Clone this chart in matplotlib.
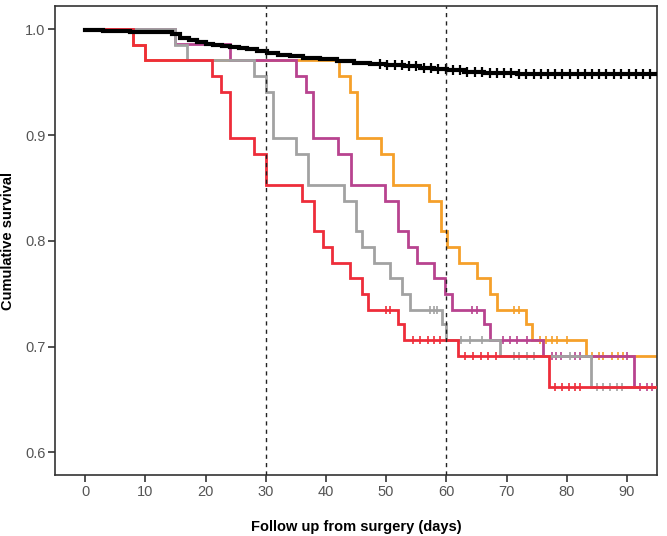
import numpy as np
import matplotlib
matplotlib.use('Agg')
import matplotlib.pyplot as plt

plt.rcParams['font.family'] = ['Liberation Sans', 'DejaVu Sans']

# event times (days) and survival after each event, censor times
red_t = [8, 10, 21, 22.6, 24, 28, 30, 36, 38, 39.5, 41, 44, 46, 47, 52, 53, 62, 77]
red_s = [0.985, 0.971, 0.956, 0.941, 0.897, 0.882, 0.853, 0.838, 0.809, 0.794,
         0.779, 0.765, 0.750, 0.735, 0.721, 0.706, 0.691, 0.662]
red_c = [50, 50.7, 54.5, 55.7, 56.9, 58, 59, 63.1, 64.5, 65.8, 67, 68.2,
         78.1, 79.2, 80.3, 81.4, 82.2]

gray_t = [15, 17, 28, 30, 31.2, 35, 37, 43, 45, 46, 48, 50.7, 52.6, 54, 59.3, 60, 69, 84]
gray_s = [0.985, 0.971, 0.956, 0.941, 0.897, 0.882, 0.853, 0.838, 0.809, 0.794,
          0.779, 0.765, 0.750, 0.735, 0.721, 0.706, 0.691, 0.662]
gray_c = [57.3, 57.9, 58.5, 62.5, 64, 66, 71.2, 72.1, 73.4, 74.6, 80.5,
          85, 86.1, 87.2, 88.3, 89.2]

magenta_t = [15, 24, 35, 36.7, 37.9, 42, 44.1, 49.8, 52, 53.7, 55.1, 57.9, 59.8,
             60.9, 66.2, 67.2, 76, 91.1]
magenta_s = [0.986, 0.971, 0.956, 0.941, 0.897, 0.882, 0.853, 0.838, 0.809, 0.794,
             0.779, 0.765, 0.750, 0.735, 0.721, 0.706, 0.691, 0.662]
magenta_c = [64.2, 65.1, 69.5, 70.6, 71.7, 73.4, 77.5, 78.3, 79.1, 81.4, 82.2, 90,
             92.2, 93.3, 94.1]

orange_t = [8, 10, 42.1, 44, 45.1, 49.1, 51.1, 57.1, 59.1, 60.1, 62.1, 65.1, 67.2,
            68.4, 73.3, 74.3, 83.2]
orange_s = [0.985, 0.971, 0.956, 0.941, 0.897, 0.882, 0.853, 0.838, 0.809, 0.794,
            0.779, 0.765, 0.750, 0.735, 0.721, 0.706, 0.691]
orange_c = [71.2, 72.1, 75.6, 76.5, 77.6, 78.4, 80, 84.2, 85.3, 86.1, 87.5, 88.6, 89.4]

black_t = [3, 7.5, 14.4, 15.8, 17.2, 18.6, 20, 21.3, 22.7, 24.1, 25.5, 26.9, 28.5,
           30.2, 32, 34.1, 36.2, 39, 41.8, 44.6, 47.3, 50, 52.9, 55.6, 58, 60.1,
           63, 66.2, 69, 71.7]
black_s = [0.9985, 0.997, 0.9955, 0.9915, 0.990, 0.988, 0.9865, 0.985, 0.9843,
           0.9836, 0.9823, 0.981, 0.979, 0.9773, 0.976, 0.9748, 0.9726, 0.9716,
           0.970, 0.9684, 0.967, 0.966, 0.9653, 0.963, 0.9622, 0.9615, 0.960,
           0.959, 0.9585, 0.9578]
black_c = [49, 50.2, 51.4, 52.6, 53.8, 55, 56.3, 57.5, 58.7, 59.9, 61.1, 62.3,
           63.5, 64.8, 66, 67.2, 68.4, 69.6, 70.8, 72, 73.3, 74.5, 75.7, 76.9,
           78.1, 79.3, 80.5, 81.8, 83, 84.2, 85.4, 86.6, 87.8, 89, 90.3, 91.5,
           92.7, 93.9]

t_end = 95


def km(ax, t, s, c, color, lw, ms, mew, start=1.0, z=2):
    xs = np.array([0] + t + [t_end], dtype=float)
    ys = np.array([start] + s + [s[-1]], dtype=float)
    ax.step(xs, ys, where='post', color=color, lw=lw, zorder=z, solid_joinstyle='miter')
    idx = np.searchsorted(xs, np.array(c), side='right') - 1
    ax.plot(c, ys[idx], ls='none', marker='|', color=color, ms=ms, mew=mew, zorder=z)


fig = plt.figure(figsize=(6.67, 5.36), dpi=100)
ax = fig.add_axes([0.0825, 0.1138, 0.9025, 0.875])

km(ax, orange_t, orange_s, orange_c, '#f5a02a', 2.0, 6, 1.2, z=2)
km(ax, magenta_t, magenta_s, magenta_c, '#b8438f', 2.0, 6, 1.2, z=3)
km(ax, gray_t, gray_s, gray_c, '#a2a2a2', 2.0, 6, 1.2, z=4)
km(ax, red_t, red_s, red_c, '#ee2d3a', 2.0, 6, 1.2, z=5)
km(ax, black_t, black_s, black_c, 'black', 3.0, 7, 1.6, start=0.9995, z=6)

for xv in [30, 60]:
    ax.axvline(xv, color='#222222', lw=1.0, ls=(0, (3, 3)), zorder=7)

ax.set_xlim(-5, 95)
ax.set_ylim(0.5785, 1.022)
ax.set_xticks(np.arange(0, 100, 10))
ax.set_yticks([0.6, 0.7, 0.8, 0.9, 1.0])
ax.set_yticklabels(['0.6', '0.7', '0.8', '0.9', '1.0'])

for sp in ax.spines.values():
    sp.set_color('#333333')
    sp.set_linewidth(1.2)
ax.tick_params(direction='out', length=5, width=1.2, color='#333333',
               labelcolor='#555555', labelsize=10.5, pad=2)

ax.set_xlabel('Follow up from surgery (days)', fontsize=10.5, fontweight='bold', labelpad=15)
ax.set_ylabel('Cumulative survival', fontsize=10.5, fontweight='bold', labelpad=7)

fig.savefig('out.png', dpi=100)
